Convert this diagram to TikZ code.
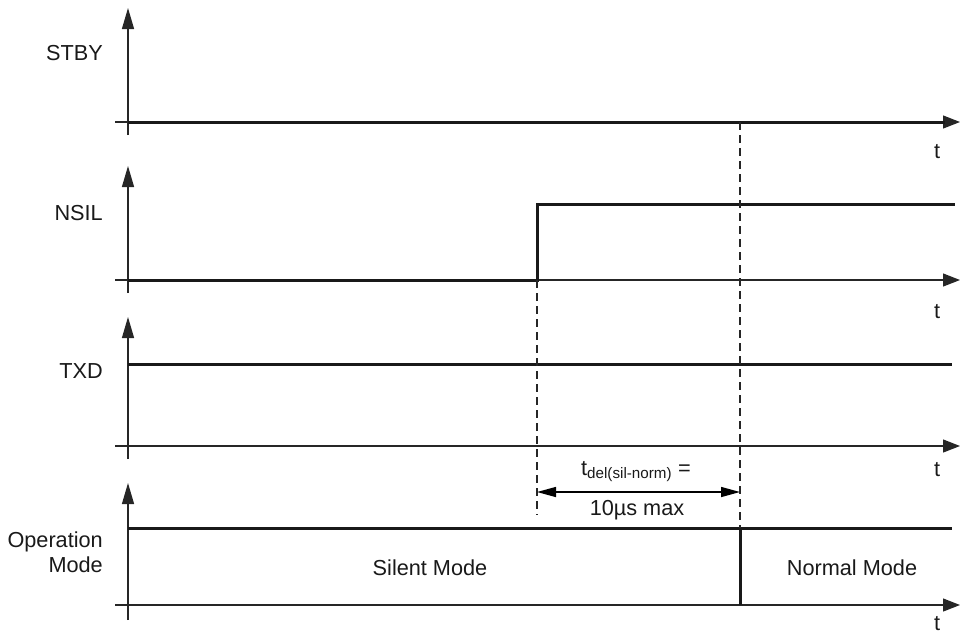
\documentclass[tikz,border=0pt]{standalone}
\usepackage{fontspec}
\setmainfont{Liberation Sans}
\usetikzlibrary{arrows.meta,positioning}

\begin{document}
\begin{tikzpicture}[x=1pt,y=-1pt]
			\tikzstyle{axis} = [draw, line width=1.2pt, color=black!85]
			\tikzstyle{vaxis} = [axis, -{Triangle[length=21pt,width=12pt]}]
			\tikzstyle{taxis} = [axis, -{Triangle[length=17pt,width=13pt]}]
			\tikzstyle{signal} = [draw, line width=3pt, color=black!90]
			\tikzstyle{marker} = [draw, line width=1.1pt, dash pattern=on 8pt off 5pt, color=black!85]
			\tikzstyle{dim} = [draw, line width=1.4pt, {Triangle[length=19pt,width=10pt]}-{Triangle[length=19pt,width=10pt]}]
			\tikzstyle{txt} = [font=\fontsize{21.7}{26}\selectfont, inner sep=0pt, anchor=base, color=black!90]
			\tikzstyle{signame} = [txt, anchor=base east]
			\useasboundingbox (0,0) rectangle (960,633);

			% STBY
			\coordinate (stbyO) at (128,122);
			\draw[vaxis] (128,135) -- (128,8);
			\draw[taxis] (115,122) -- (960,122);
			\draw[signal] (stbyO) -- (945,122);
			\node [signame] (stby) at (103,60) {STBY};
			\node [txt] (t1) at (937,158) {t};

			% NSIL
			\coordinate (nsilO) at (128,280);
			\coordinate (rise) at (537,280);
			\draw[vaxis] (128,293) -- (128,166);
			\draw[taxis] (115,280) -- (960,280);
			\draw[signal] (nsilO) -- (rise) -- (537,204) -- (955,204);
			\node [signame] (nsil) at (103,220) {NSIL};
			\node [txt] (t2) at (937,318) {t};

			% TXD
			\coordinate (txdO) at (128,364);
			\draw[vaxis] (128,459) -- (128,317);
			\draw[taxis] (115,446) -- (960,446);
			\draw[signal] (txdO) -- (952,364);
			\node [signame] (txd) at (103,378) {TXD};
			\node [txt] (t3) at (937,476) {t};

			% Operation Mode
			\coordinate (modeO) at (128,528);
			\coordinate (switch) at (740,528);
			\draw[vaxis] (128,620) -- (128,483);
			\draw[taxis] (115,605) -- (960,605);
			\draw[signal] (modeO) -- (952,528);
			\draw[signal] (switch) -- (740,605);
			\node [signame] (op) at (103,547) {Operation};
			\node [signame] (mode) at (103,572) {Mode};
			\node [txt] (silent) at (430,575) {Silent Mode};
			\node [txt] (normal) at (852,575) {Normal Mode};
			\node [txt] (t4) at (937,630) {t};

			% delay
			\coordinate (stbyEnd) at (740,122);
			\coordinate (dimL) at (537,492);
			\coordinate (dimR) at (740,492);
			\draw[marker] (rise) -- (537,515);
			\draw[marker] (stbyEnd) -- (switch);
			\draw[dim] (dimL) -- (dimR);
			\node [txt] (tdel) at (636,475) {t\textsubscript{del(sil-norm)} =};
			\node [txt] (tmax) at (637,515) {10µs max};
		\end{tikzpicture}
\end{document}
